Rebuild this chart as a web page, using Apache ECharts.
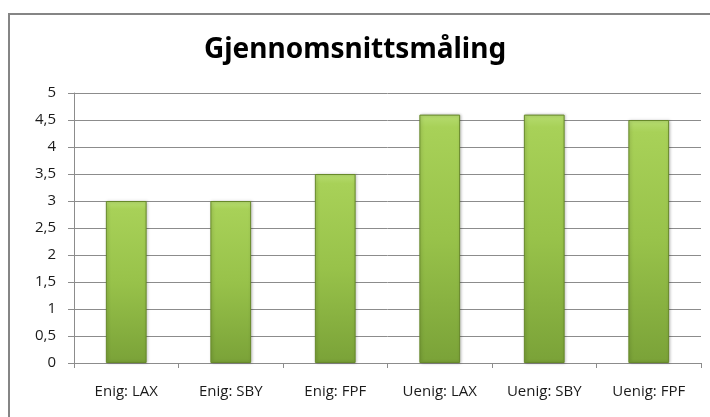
<!DOCTYPE html>
<html>
<head>
<meta charset="utf-8">
<script src="https://cdn.jsdelivr.net/npm/echarts@6/dist/echarts.min.js"></script>
<style>
    html, body { margin: 0; padding: 0; background: #fff; }
    #myChart { width: 710px; height: 417px; }
</style>
</head>
<body>
<div id="myChart"></div>
<script>
    // kategorier og verdier lest av bildet
    var categories = ['Enig: LAX', 'Enig: SBY', 'Enig: FPF', 'Uenig: LAX', 'Uenig: SBY', 'Uenig: FPF'];
    var values = [3, 3, 3.5, 4.6, 4.6, 4.5];
    var yTicks = [0, 0.5, 1, 1.5, 2, 2.5, 3, 3.5, 4, 4.5, 5];

    var labelFont = {
        color: '#1a1a1a',
        fontFamily: 'Open Sans',
        fontSize: 15
    };

    var myChart = echarts.init(document.getElementById('myChart'));
    myChart.setOption({
        animation: false,
        graphic: [{
            type: 'rect',
            shape: { x: 9, y: 14, width: 760, height: 460 },
            style: { fill: 'none', stroke: '#858585', lineWidth: 2 },
            silent: true
        }],
        title: {
            text: 'Gjennomsnittsmåling',
            left: 'center',
            top: 31,
            textStyle: {
                color: '#000000',
                fontFamily: 'Noto Sans',
                fontWeight: 'bold',
                fontSize: 28
            }
        },
        grid: {
            left: 74,
            right: 9,
            top: 93,
            bottom: 54
        },
        xAxis: {
            type: 'category',
            data: categories,
            axisLine: { lineStyle: { color: '#8c8c8c', width: 1 } },
            axisTick: { show: true, length: 5, alignWithLabel: false, lineStyle: { color: '#8c8c8c' } },
            axisLabel: Object.assign({ margin: 21, interval: 0 }, labelFont)
        },
        yAxis: {
            type: 'value',
            min: yTicks[0],
            max: yTicks[yTicks.length - 1],
            interval: 0.5,
            axisLine: { show: true, lineStyle: { color: '#8c8c8c', width: 1 } },
            axisTick: { show: true, length: 6, lineStyle: { color: '#8c8c8c' } },
            splitLine: { show: true, lineStyle: { color: '#8c8c8c', width: 1 } },
            axisLabel: Object.assign({
                margin: 18,
                formatter: function (v) { return String(v).replace('.', ','); }
            }, labelFont)
        },
        series: [{
            type: 'bar',
            data: values,
            barWidth: '39%',
            itemStyle: {
                color: new echarts.graphic.LinearGradient(0, 0, 0, 1, [
                    { offset: 0, color: '#b6dc70' },
                    { offset: 0.05, color: '#a8d158' },
                    { offset: 0.5, color: '#98c24a' },
                    { offset: 1, color: '#7aa238' }
                ]),
                borderColor: '#67892a',
                borderWidth: 1,
                shadowColor: 'rgba(0,0,0,0.25)',
                shadowBlur: 3,
                shadowOffsetX: 1,
                shadowOffsetY: 0
            }
        }]
    });
</script>
</body>
</html>
